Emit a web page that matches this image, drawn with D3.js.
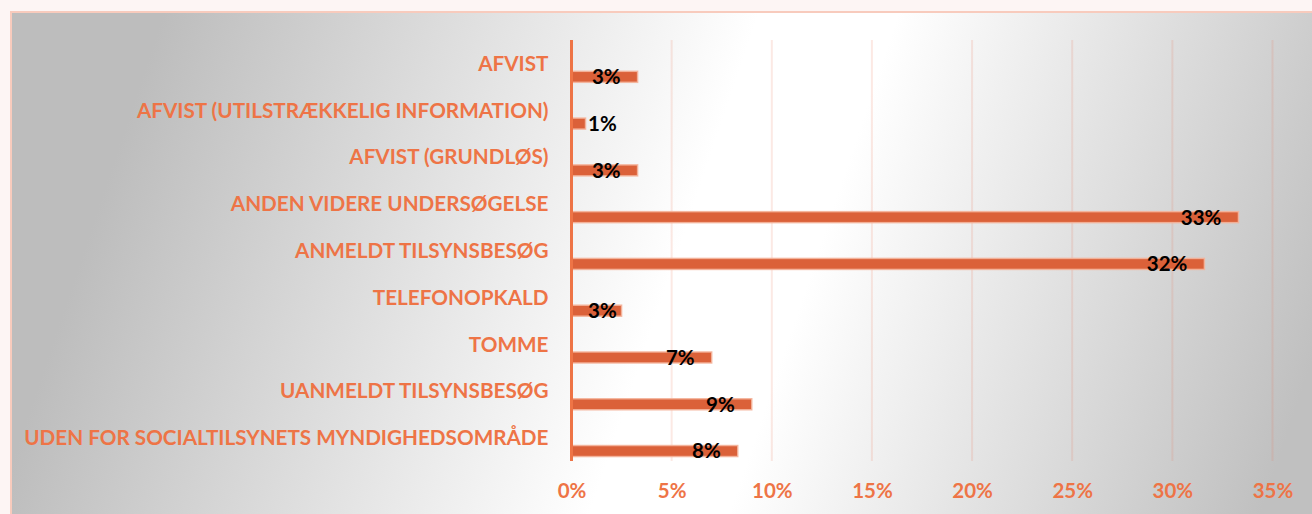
<!DOCTYPE html>
<html>
<head>
<meta charset="utf-8">
<script src="https://cdn.jsdelivr.net/npm/d3@7"></script>
<style>
  html, body { margin: 0; padding: 0; background: #fdf5f4; overflow: hidden; }
  svg { display: block; }
  text { font-family: Lato, "Open Sans", sans-serif; font-weight: 700; }
</style>
</head>
<body>
<div id="chart"></div>
<script>
// categories, top to bottom
const categories = [
    'AFVIST',
    'AFVIST (UTILSTRÆKKELIG INFORMATION)',
    'AFVIST (GRUNDLØS)',
    'ANDEN VIDERE UNDERSØGELSE',
    'ANMELDT TILSYNSBESØG',
    'TELEFONOPKALD',
    'TOMME',
    'UANMELDT TILSYNSBESØG',
    'UDEN FOR SOCIALTILSYNETS MYNDIGHEDSOMRÅDE'
];

// share of cases per category
const shares = [0.033, 0.007, 0.033, 0.333, 0.316, 0.025, 0.070, 0.090, 0.083];

// x axis ticks
const xTicks = [0, 0.05, 0.10, 0.15, 0.20, 0.25, 0.30, 0.35];

const width = 1312;
const height = 514;
const orange = '#ee7446';

const svg = d3.select('#chart')
    .append('svg')
    .attr('width', width)
    .attr('height', height);

// background gradient of the chart area
const defs = svg.append('defs');
const cx = 755, cy = 262, dx = 0.947, dy = 0.32;
const grad = defs.append('linearGradient')
    .attr('id', 'bg')
    .attr('gradientUnits', 'userSpaceOnUse')
    .attr('x1', cx - 640 * dx).attr('y1', cy - 640 * dy)
    .attr('x2', cx + 560 * dx).attr('y2', cy + 560 * dy);
grad.append('stop').attr('offset', '0%').attr('stop-color', '#bdbdbd');
grad.append('stop').attr('offset', '47%').attr('stop-color', '#ffffff');
grad.append('stop').attr('offset', '58%').attr('stop-color', '#ffffff');
grad.append('stop').attr('offset', '100%').attr('stop-color', '#c0c0c0');

svg.append('rect')
    .attr('x', 11).attr('y', 12)
    .attr('width', width).attr('height', height)
    .attr('fill', 'url(#bg)')
    .attr('stroke', '#f8cbbd')
    .attr('stroke-width', 2);

// scales
const x = d3.scaleLinear()
    .domain([0, 0.35])
    .range([571.5, 1272.5]);

const y = d3.scaleBand()
    .domain(categories)
    .range([40, 461]);

const bw = y.bandwidth();
const barOffset = bw * 0.287;
const barHeight = 11;

// gridlines
svg.append('g')
    .selectAll('line')
    .data(xTicks.slice(1))
    .enter()
    .append('line')
    .attr('x1', d => x(d)).attr('x2', d => x(d))
    .attr('y1', 40).attr('y2', 461)
    .attr('stroke', 'rgba(236,120,90,0.16)')
    .attr('stroke-width', 2);

// x axis tick labels
const xAxis = d3.axisBottom(x)
    .tickValues(xTicks)
    .tickFormat(d3.format('.0%'))
    .tickSize(0)
    .tickPadding(0);

const xg = svg.append('g')
    .attr('transform', 'translate(0,491)')
    .call(xAxis);
xg.select('.domain').remove();
xg.selectAll('text')
    .attr('dy', '0.35em')
    .attr('fill', orange)
    .attr('font-size', 20.5);

// category labels
const yAxis = d3.axisLeft(y)
    .tickSize(0)
    .tickPadding(23);

const yg = svg.append('g')
    .attr('transform', `translate(${x(0)},0)`)
    .call(yAxis);
yg.select('.domain').remove();
yg.selectAll('text')
    .attr('dy', '0.36em')
    .attr('fill', orange)
    .attr('font-size', 20.7);

// bars
svg.append('g')
    .selectAll('rect')
    .data(shares)
    .enter()
    .append('rect')
    .attr('x', x(0))
    .attr('y', (d, i) => y(categories[i]) + bw / 2 + barOffset - barHeight / 2)
    .attr('width', d => x(d) - x(0))
    .attr('height', barHeight)
    .attr('fill', '#db6139')
    .attr('stroke', 'rgba(244,180,155,0.9)')
    .attr('stroke-width', 1.5);

// vertical axis line
svg.append('line')
    .attr('x1', x(0)).attr('x2', x(0))
    .attr('y1', 40).attr('y2', 461)
    .attr('stroke', orange)
    .attr('stroke-width', 3);

// data labels, inside end, pushed right when the bar is too short
const fmt = d3.format('.0%');
svg.append('g')
    .selectAll('text')
    .data(shares)
    .enter()
    .append('text')
    .attr('y', (d, i) => y(categories[i]) + bw / 2 + barOffset)
    .attr('dy', '0.36em')
    .attr('font-size', 20.5)
    .attr('fill', '#000')
    .text(d => fmt(d))
    .attr('x', function (d) {
        const w = this.getComputedTextLength();
        return Math.max(x(d) - 17 - w, x(0) + 16.5);
    });
</script>
</body>
</html>
